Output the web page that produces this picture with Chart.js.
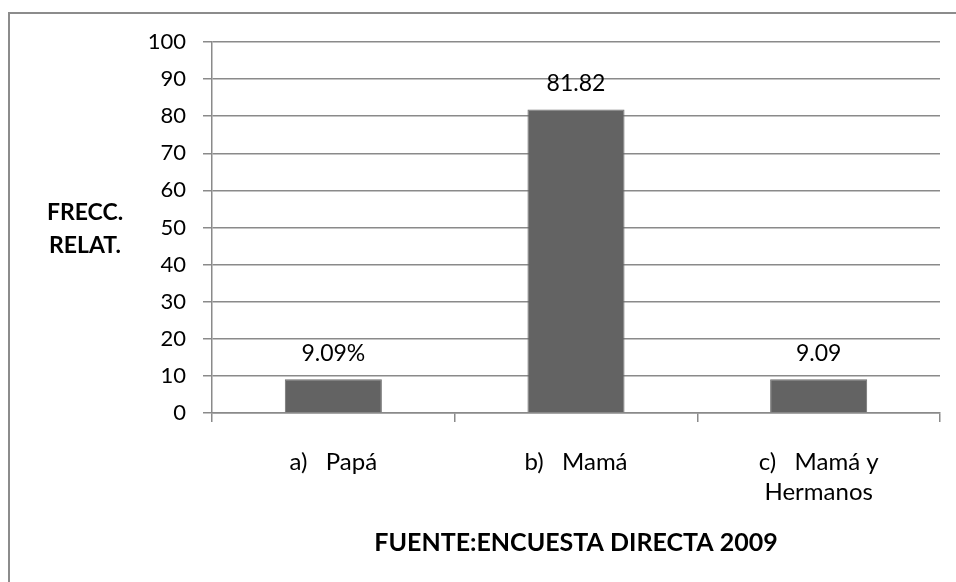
<!DOCTYPE html>
<html>
<head>
<meta charset="utf-8">
<script src="https://cdn.jsdelivr.net/npm/chart.js@4/dist/chart.umd.min.js"></script>
<style>
  html, body { margin: 0; padding: 0; background: #fff; }
  canvas { display: block; }
</style>
</head>
<body>
<canvas id="chart" width="956" height="582"></canvas>
<script>
// Data
const categories = [['a)   Papá'], ['b)   Mamá'], ['c)   Mamá y', 'Hermanos']];
const values = [9.09, 81.82, 9.09];
const valueLabels = ['9.09%', '81.82', '9.09'];
const yTitle = ['FRECC.', 'RELAT.'];
const xTitle = 'FUENTE:ENCUESTA DIRECTA 2009';

const FONT = 'Lato, "Open Sans", sans-serif';
const GRID = '#8a8a8a';

// Grey frame (top and left edges, the rest is cut off)
const framePlugin = {
    id: 'frame',
    beforeDraw(chart) {
        const ctx = chart.ctx;
        ctx.save();
        ctx.strokeStyle = '#8c8c8c';
        ctx.lineWidth = 2;
        ctx.beginPath();
        ctx.moveTo(9, chart.height);
        ctx.lineTo(9, 13);
        ctx.lineTo(chart.width, 13);
        ctx.stroke();
        ctx.restore();
    }
};

// Horizontal y-axis title on the left
const yTitlePlugin = {
    id: 'yTitle',
    afterDraw(chart) {
        const ctx = chart.ctx;
        const area = chart.chartArea;
        const mid = (area.top + area.bottom) / 2;
        ctx.save();
        ctx.font = 'bold 23px ' + FONT;
        ctx.fillStyle = '#000';
        ctx.textAlign = 'center';
        ctx.textBaseline = 'middle';
        yTitle.forEach((line, i) => {
            ctx.fillText(line, 85, mid - 15 + i * 33);
        });
        ctx.restore();
    }
};

// Value labels above each bar
const valueLabelPlugin = {
    id: 'valueLabels',
    afterDatasetsDraw(chart) {
        const ctx = chart.ctx;
        const meta = chart.getDatasetMeta(0);
        ctx.save();
        ctx.font = '23px ' + FONT;
        ctx.fillStyle = '#000';
        ctx.textAlign = 'center';
        ctx.textBaseline = 'middle';
        meta.data.forEach((bar, i) => {
            ctx.fillText(valueLabels[i], bar.x, bar.y - 26);
        });
        ctx.restore();
    }
};

new Chart(document.getElementById('chart').getContext('2d'), {
    type: 'bar',
    data: {
        labels: categories,
        datasets: [{
            data: values,
            backgroundColor: '#636363',
            borderColor: '#6e6e6e',
            borderWidth: 1,
            barPercentage: 0.4,
            categoryPercentage: 1
        }]
    },
    options: {
        responsive: false,
        animation: false,
        layout: {
            padding: { top: 42, right: 16, left: 0, bottom: 0 }
        },
        plugins: {
            legend: { display: false },
            tooltip: { enabled: false }
        },
        scales: {
            x: {
                grid: {
                    drawOnChartArea: false,
                    color: GRID,
                    lineWidth: 1.5,
                    tickLength: 9
                },
                border: { color: GRID, width: 1.5 },
                ticks: {
                    color: '#000',
                    font: { family: FONT, size: 24, lineHeight: 1.25 },
                    padding: 25,
                    maxRotation: 0
                },
                title: {
                    display: true,
                    text: xTitle,
                    color: '#000',
                    font: { family: FONT, size: 25, weight: 'bold', lineHeight: 1.2 },
                    padding: { top: 0, bottom: 24 }
                },
                afterFit(scale) {
                    scale.height = 169;
                }
            },
            y: {
                min: 0,
                max: 100,
                ticks: {
                    stepSize: 10,
                    color: '#000',
                    font: { family: FONT, size: 22 },
                    padding: 17
                },
                grid: {
                    color: GRID,
                    lineWidth: 1.5,
                    tickLength: 9
                },
                border: { color: GRID, width: 1.5 },
                afterFit(scale) {
                    scale.width = 212;
                }
            }
        }
    },
    plugins: [framePlugin, yTitlePlugin, valueLabelPlugin]
});
</script>
</body>
</html>
